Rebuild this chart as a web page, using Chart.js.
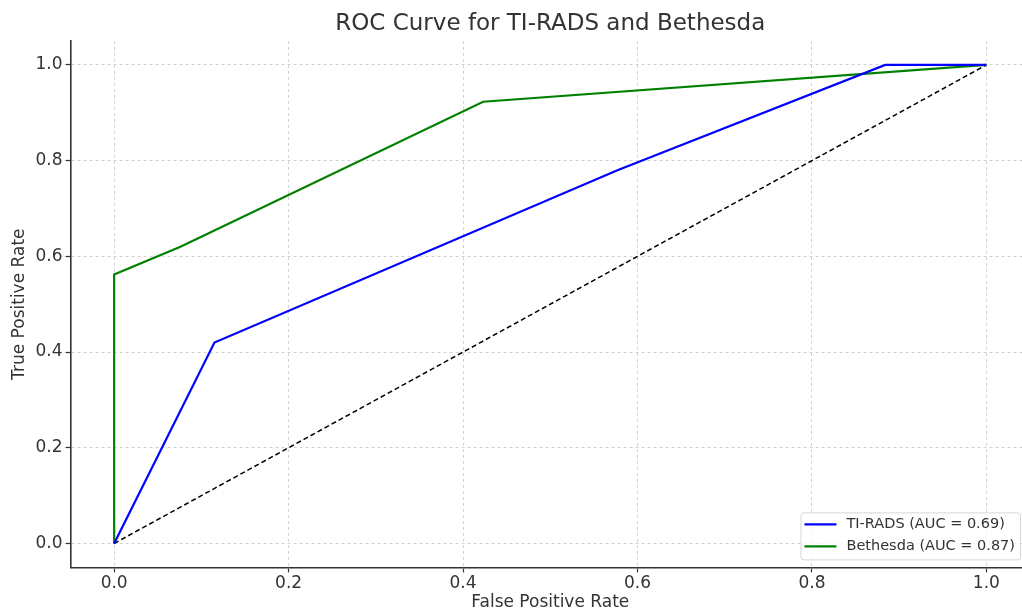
<!DOCTYPE html>
<html>
<head>
<meta charset="utf-8">
<title>ROC Curve</title>
<script src="https://cdn.jsdelivr.net/npm/chart.js@4.4.0/dist/chart.umd.min.js"></script>
<style>
    html, body { margin: 0; padding: 0; background: #fff; overflow: hidden; }
    #wrap { width: 1030px; height: 609px; position: relative; }
</style>
</head>
<body>
<div id="wrap"><canvas id="rocChart"></canvas></div>
<script>
// values
const tiradsFpr = [0, 0.115, 0.577, 0.884, 1];
const tiradsTpr = [0, 0.42, 0.78, 1, 1];
const bethesdaFpr = [0, 0, 0.076, 0.423, 1];
const bethesdaTpr = [0, 0.562, 0.62, 0.923, 1];
const chanceFpr = [0, 1];
const chanceTpr = [0, 1];
const tickValues = [0, 0.2, 0.4, 0.6, 0.8, 1.0];
const seriesLabels = ['TI-RADS (AUC = 0.69)', 'Bethesda (AUC = 0.87)'];

const toPoints = (xs, ys) => xs.map((x, i) => ({ x: x, y: ys[i] }));
const fontFamily = '"DejaVu Sans", sans-serif';
const textColor = '#333';

// matplotlib-like legend box in the lower right corner of the plot
const boxLegend = {
    id: 'boxLegend',
    afterDraw(chart) {
        const ctx = chart.ctx;
        const area = chart.chartArea;
        const items = chart.data.datasets.filter(d => d.showInLegend);
        ctx.save();
        ctx.font = '14.5px ' + fontFamily;
        const textW = Math.max(...items.map(d => ctx.measureText(d.label).width));
        const rowH = 22;
        const w = 46 + textW + 5;
        const h = items.length * rowH + 3;
        const x = area.right - 10 - w;
        const y = area.bottom - 8 - h;
        ctx.fillStyle = 'rgba(255,255,255,0.8)';
        ctx.strokeStyle = '#d6d6d6';
        ctx.lineWidth = 1;
        ctx.beginPath();
        ctx.roundRect(x + 0.5, y + 0.5, w, h, 3);
        ctx.fill();
        ctx.stroke();
        items.forEach((d, i) => {
            const cy = y + 12 + i * rowH;
            ctx.strokeStyle = d.borderColor;
            ctx.lineWidth = 2.2;
            ctx.beginPath();
            ctx.moveTo(x + 4, cy);
            ctx.lineTo(x + 36, cy);
            ctx.stroke();
            ctx.fillStyle = textColor;
            ctx.textBaseline = 'middle';
            ctx.fillText(d.label, x + 46, cy);
        });
        ctx.restore();
    }
};

const axisCommon = {
    type: 'linear',
    min: -0.05,
    max: 1.05,
    afterBuildTicks: axis => { axis.ticks = tickValues.map(v => ({ value: v })); },
    ticks: {
        color: textColor,
        padding: 3,
        font: { family: fontFamily, size: 17, lineHeight: 1 },
        callback: v => v.toFixed(1)
    },
    grid: {
        color: '#d2d2d2',
        lineWidth: 1,
        tickColor: '#333',
        tickLength: 5,
        tickWidth: 1.2
    },
    border: { display: true, color: '#333', width: 1.6, dash: [3, 3] }
};

new Chart(document.getElementById('rocChart'), {
    type: 'line',
    data: {
        datasets: [{
            label: seriesLabels[0],
            data: toPoints(tiradsFpr, tiradsTpr),
            borderColor: '#0000ff',
            borderWidth: 2.2,
            showInLegend: true
        }, {
            label: seriesLabels[1],
            data: toPoints(bethesdaFpr, bethesdaTpr),
            borderColor: '#008000',
            borderWidth: 2.2,
            showInLegend: true
        }, {
            label: 'Chance',
            data: toPoints(chanceFpr, chanceTpr),
            borderColor: '#000',
            borderWidth: 1.5,
            borderDash: [5, 3],
            showInLegend: false
        }]
    },
    options: {
        responsive: true,
        maintainAspectRatio: false,
        animation: false,
        elements: { point: { radius: 0 }, line: { tension: 0 } },
        layout: { padding: { left: 4, top: 0, right: 0, bottom: 0 } },
        plugins: {
            legend: { display: false },
            tooltip: { enabled: false },
            title: {
                display: true,
                fullSize: false,
                text: 'ROC Curve for TI-RADS and Bethesda',
                color: textColor,
                font: { family: fontFamily, size: 23, weight: 'normal' },
                padding: { top: 10, bottom: 3.4 }
            }
        },
        scales: {
            x: Object.assign({}, axisCommon, {
                title: {
                    display: true,
                    text: 'False Positive Rate',
                    color: textColor,
                    font: { family: fontFamily, size: 17, lineHeight: 0.8 },
                    padding: { top: 0, bottom: 0 }
                }
            }),
            y: Object.assign({}, axisCommon, {
                title: {
                    display: true,
                    text: 'True Positive Rate',
                    color: textColor,
                    font: { family: fontFamily, size: 17, lineHeight: 1 },
                    padding: { top: 7.5, bottom: 4 }
                }
            })
        }
    },
    plugins: [boxLegend]
});
</script>
</body>
</html>
